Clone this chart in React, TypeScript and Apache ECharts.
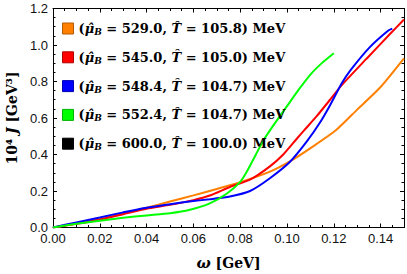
import React, { useEffect, useRef } from "react";
import * as echarts from "echarts";

const colors = ["#FF8000", "#FF0000", "#0000FF", "#00FF00", "#000000"];
const borderColors = ["#B35A00", "#B30000", "#0000B3", "#00B300", "#000000"];
const muB = ["529.0", "545.0", "548.4", "552.4", "600.0"];
const Tval = ["105.8", "105.0", "104.7", "104.7", "100.0"];

const orangeOmega = [0, 0.01, 0.02, 0.03, 0.04, 0.05, 0.06, 0.07, 0.08, 0.0927, 0.102, 0.111, 0.121, 0.13, 0.14, 0.15];
const orangeJ = [0, 0.022, 0.045, 0.077, 0.108, 0.142, 0.176, 0.211, 0.248, 0.306, 0.368, 0.443, 0.534, 0.646, 0.77, 0.927];

const redOmega = [0, 0.01, 0.02, 0.03, 0.04, 0.05, 0.06, 0.067, 0.0756, 0.0842, 0.0927, 0.0984, 0.1041, 0.1075, 0.1127, 0.1184, 0.1234, 0.134, 0.144, 0.15];
const redJ = [0, 0.02, 0.043, 0.073, 0.103, 0.124, 0.15, 0.175, 0.222, 0.262, 0.335, 0.4, 0.485, 0.535, 0.61, 0.7, 0.78, 0.925, 1.06, 1.14];

const blueOmega = [0, 0.01, 0.02, 0.03, 0.04, 0.05, 0.06, 0.067, 0.0756, 0.0842, 0.0927, 0.1013, 0.1084, 0.1141, 0.1184, 0.1234, 0.127, 0.1355, 0.1433, 0.145];
const blueJ = [0, 0.028, 0.055, 0.083, 0.108, 0.128, 0.145, 0.155, 0.17, 0.2, 0.27, 0.36, 0.47, 0.575, 0.67, 0.79, 0.86, 0.99, 1.08, 1.09];

const greenOmega = [0, 0.01, 0.02, 0.03, 0.04, 0.05, 0.0585, 0.067, 0.0742, 0.08, 0.0828, 0.0865, 0.09, 0.095, 0.1, 0.105, 0.11, 0.115, 0.12];
const greenJ = [0, 0.02, 0.037, 0.053, 0.066, 0.078, 0.097, 0.132, 0.185, 0.25, 0.305, 0.395, 0.48, 0.575, 0.665, 0.755, 0.838, 0.902, 0.955];

const blackOmega: number[] = [];
const blackJ: number[] = [];

const omegas = [orangeOmega, redOmega, blueOmega, greenOmega, blackOmega];
const js = [orangeJ, redJ, blueJ, greenJ, blackJ];

export default function App() {
  const ref = useRef<HTMLDivElement>(null);
  useEffect(() => {
    if (!ref.current) return;
    const chart = echarts.init(ref.current, null, { renderer: "svg" });
    const names = muB.map((m, i) => `s${i}`);
    const serif = "DejaVu Serif";
    const axisCommon = {
      axisLine: { show: true, onZero: false, lineStyle: { color: "#000", width: 1 } },
      axisTick: { show: true, inside: true, length: 4, lineStyle: { color: "#000" } },
      minorTick: { show: true, splitNumber: 4, length: 2.5, lineStyle: { color: "#000" } },
      splitLine: { show: false },
    };
    const option: any = {
      animation: false,
      grid: { left: 53, right: 3, top: 8.5, bottom: 46.5, containLabel: false, outerBoundsMode: "none" },
      legend: {
        orient: "vertical",
        left: 57,
        top: 17,
        itemWidth: 11,
        itemHeight: 11,
        itemGap: 14.3,
        icon: "rect",
        data: names.map((n, i) => ({
          name: n,
          itemStyle: { color: colors[i], borderColor: borderColors[i], borderWidth: 1 },
        })),
        formatter: (name: string) => {
          const i = Number(name.slice(1));
          return `{p|(}{m|μ̂}{s|B}{p| = ${muB[i]}, }{m|T̂}{p| = ${Tval[i]})}{u| MeV}`;
        },
        textStyle: {
          fontFamily: serif,
          fontWeight: "bold",
          fontSize: 13,
          color: "#000",
          rich: {
            p: { fontFamily: serif, fontWeight: "bold", fontSize: 13, color: "#000" },
            m: { fontFamily: serif, fontWeight: "bold", fontStyle: "italic", fontSize: 13, color: "#000" },
            s: { fontFamily: serif, fontWeight: "bold", fontStyle: "italic", fontSize: 9, color: "#000", padding: [7, 0, 0, 0] },
            u: { fontFamily: serif, fontWeight: "bold", fontSize: 13, color: "#000" },
          },
        },
      },
      xAxis: [
        {
          type: "value",
          min: 0,
          max: 0.15,
          interval: 0.02,
          position: "bottom",
          ...axisCommon,
          axisLabel: {
            show: true,
            margin: 4,
            fontFamily: "Liberation Sans",
            fontSize: 13,
            color: "#111",
            formatter: (v: number) => v.toFixed(2),
          },
          name: "{w|ω} [GeV]",
          nameLocation: "middle",
          nameGap: 28,
          nameTextStyle: {
            fontFamily: serif,
            fontWeight: "bold",
            fontSize: 14,
            color: "#000",
            rich: {
              w: { fontFamily: serif, fontWeight: "bold", fontStyle: "italic", fontSize: 15, color: "#000" },
            },
          },
        },
        {
          type: "value",
          min: 0,
          max: 0.15,
          interval: 0.02,
          position: "top",
          ...axisCommon,
          axisLabel: { show: false },
        },
      ],
      yAxis: [
        {
          type: "value",
          min: 0,
          max: 1.2,
          interval: 0.2,
          position: "left",
          ...axisCommon,
          axisLabel: {
            show: true,
            margin: 5,
            fontFamily: "Liberation Sans",
            fontSize: 13,
            color: "#111",
            formatter: (v: number) => v.toFixed(1),
          },
          name: "10⁴ {j|J} [GeV³]",
          nameLocation: "middle",
          nameGap: 33,
          nameRotate: 90,
          nameTextStyle: {
            fontFamily: serif,
            fontWeight: "bold",
            fontSize: 14,
            color: "#000",
            rich: {
              j: { fontFamily: serif, fontWeight: "bold", fontStyle: "italic", fontSize: 14, color: "#000" },
            },
          },
        },
        {
          type: "value",
          min: 0,
          max: 1.2,
          interval: 0.2,
          position: "right",
          ...axisCommon,
          axisLabel: { show: false },
        },
      ],
      series: names.map((n, i) => ({
        name: n,
        type: "line",
        xAxisIndex: 0,
        yAxisIndex: 0,
        smooth: 0.2,
        showSymbol: false,
        symbol: "none",
        data: omegas[i].map((w, k) => [w, js[i][k]]),
        lineStyle: { color: colors[i], width: 2 },
        itemStyle: { color: colors[i] },
      })),
    };
    chart.setOption(option);
    return () => chart.dispose();
  }, []);
  return (
    <div
      ref={ref}
      style={{ position: "fixed", left: 0, top: 0, width: 407, height: 274, background: "#fff" }}
    />
  );
}
